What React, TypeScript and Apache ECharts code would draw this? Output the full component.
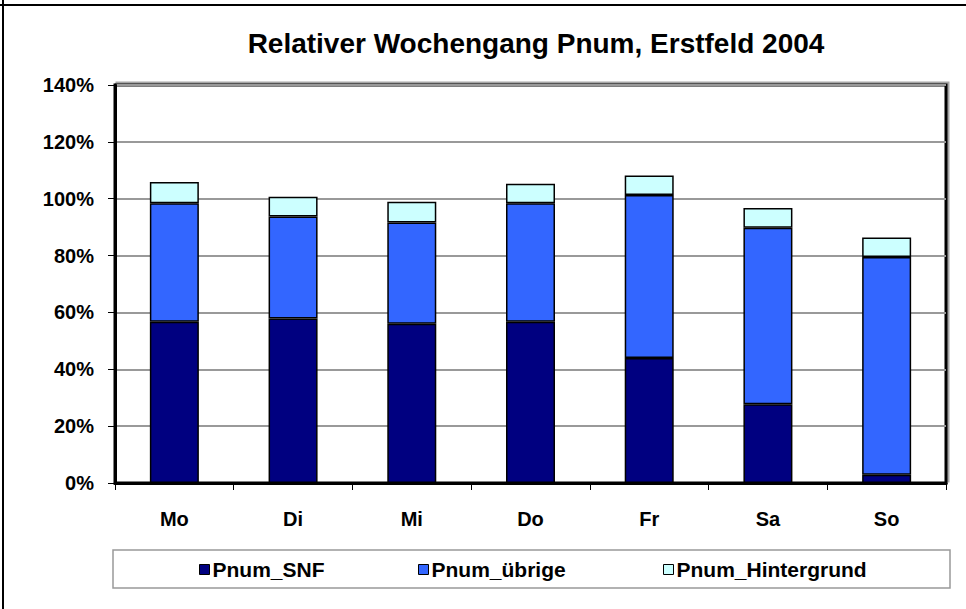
import React, { useEffect, useRef } from "react";
import * as echarts from "echarts";

const categories = ["Mo", "Di", "Mi", "Do", "Fr", "Sa", "So"];
const seriesNames = ["Pnum_SNF", "Pnum_übrige", "Pnum_Hintergrund"];
const snf = [56.7, 57.9, 56.0, 56.7, 44.0, 27.7, 2.9];
const uebrige = [41.7, 35.8, 35.6, 41.7, 57.3, 62.1, 76.6];
const hintergrund = [7.5, 7.0, 7.3, 6.9, 6.9, 6.9, 6.9];
const yTicks = { min: 0, max: 140, interval: 20 };

const colors = ["#000080", "#3366FF", "#CCFFFF"];
const FONT = "'Liberation Sans', Arial, sans-serif";

export default function App() {
  const ref = useRef<HTMLDivElement>(null);
  useEffect(() => {
    if (!ref.current) return;
    const chart = echarts.init(ref.current, undefined, { renderer: "svg" });
    const data = [snf, uebrige, hintergrund];
    const legendLefts = [199, 418, 663];
    chart.setOption({
      animation: false,
      backgroundColor: "#ffffff",
      title: {
        text: "Relativer Wochengang Pnum, Erstfeld 2004",
        left: 531,
        textAlign: "center",
        top: 24,
        textStyle: { fontFamily: FONT, fontWeight: "bold", fontSize: 28, color: "#000" },
      },
      grid: {
        left: 115,
        top: 85,
        width: 831,
        height: 398,
        show: true,
        borderColor: "#000",
        borderWidth: 3,
        backgroundColor: "#fff",
        shadowColor: "rgba(0,0,0,0.35)",
        shadowOffsetX: 2,
        shadowOffsetY: -2,
      },
      legend: seriesNames.map((n, i) => ({
        data: [n],
        left: legendLefts[i],
        top: 559,
        itemWidth: 10,
        itemHeight: 10,
        itemGap: 0,
        padding: 0,
        icon: "rect",
        itemStyle: { borderColor: "#000", borderWidth: 1 },
        textStyle: { fontFamily: FONT, fontWeight: "bold", fontSize: 21, color: "#000", padding: [0, 0, 0, -2] },
      })),
      xAxis: {
        type: "category",
        data: categories,
        axisLine: { lineStyle: { color: "#000", width: 3 } },
        axisTick: { show: true, length: 7, lineStyle: { color: "#000", width: 1 } },
        axisLabel: { fontFamily: FONT, fontWeight: "bold", fontSize: 20, color: "#000", margin: 26 },
      },
      yAxis: {
        type: "value",
        min: yTicks.min,
        max: yTicks.max,
        interval: yTicks.interval,
        axisLine: { show: true, lineStyle: { color: "#000", width: 3 } },
        axisTick: { show: true, length: 7, lineStyle: { color: "#000", width: 1 } },
        axisLabel: {
          fontFamily: FONT,
          fontWeight: "bold",
          fontSize: 20,
          color: "#000",
          margin: 21,
          formatter: "{value}%",
        },
        splitLine: { show: true, lineStyle: { color: "#999", width: 2 } },
      },
      series: seriesNames.map((n, i) => ({
        name: n,
        type: "bar",
        stack: "total",
        data: data[i],
        barWidth: 49,
        itemStyle: { color: colors[i], borderColor: "#000", borderWidth: 1.5 },
      })),
      graphic: [
        {
          type: "rect",
          shape: { x: 113, y: 550, width: 837, height: 38 },
          style: { fill: "#fff", stroke: "#999", lineWidth: 1.5 },
          z: -1,
        },
        {
          type: "line",
          shape: { x1: 3, y1: 0, x2: 3, y2: 609 },
          style: { stroke: "#000", lineWidth: 2 },
        },
        {
          type: "line",
          shape: { x1: 0, y1: 5, x2: 966, y2: 5 },
          style: { stroke: "#000", lineWidth: 2 },
        },
      ],
    });
    return () => chart.dispose();
  }, []);
  return (
    <div
      ref={ref}
      style={{ position: "fixed", left: 0, top: 0, width: 966, height: 609 }}
    />
  );
}
